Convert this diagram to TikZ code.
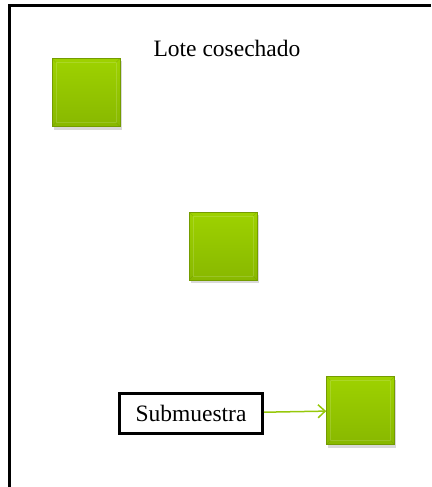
\documentclass[tikz,border=0pt]{standalone}
\usepackage{fontspec}
\setmainfont{Liberation Serif}
\usetikzlibrary{arrows.meta,shadows}

\definecolor{verdeA}{RGB}{158,210,0}
\definecolor{verdeB}{RGB}{136,184,0}
\definecolor{flecha}{RGB}{150,200,10}

\tikzset{
  muestra/.style={minimum width=68pt, minimum height=68pt, inner sep=0pt,
    top color=verdeA, bottom color=verdeB, draw=verdeB!85!black, line width=0.6pt,
    drop shadow={shadow xshift=1.5pt, shadow yshift=-3pt, opacity=0.3, fill=black!50},
    path picture={
      \draw [white, opacity=0.15, line width=0.8pt]
        ([shift={(4pt,4pt)}]path picture bounding box.south west)
        rectangle ([shift={(-4pt,-4pt)}]path picture bounding box.north east);
      \draw [verdeB!70!black, opacity=0.3, line width=0.6pt]
        (path picture bounding box.south west) -- ([shift={(4pt,4pt)}]path picture bounding box.south west)
        (path picture bounding box.south east) -- ([shift={(-4pt,4pt)}]path picture bounding box.south east)
        (path picture bounding box.north east) -- ([shift={(-4pt,-4pt)}]path picture bounding box.north east)
        (path picture bounding box.north west) -- ([shift={(4pt,-4pt)}]path picture bounding box.north west);
    }},
  etiqueta/.style={draw, line width=3pt, minimum width=143pt, minimum height=40pt,
    inner sep=0pt, font=\fontsize{23.5}{26}\selectfont},
  titulo/.style={font=\fontsize{23.5}{26}\selectfont}
}

\begin{document}
\begin{tikzpicture}[x=1pt, y=-1pt]
 \useasboundingbox (0,0) rectangle (431,487);

 % marco del lote
 \draw [line width=3pt] (9.5,487) -- (9.5,5.5) -- (431,5.5);

 \node [titulo] (lote) at (227,48) {Lote cosechado};

 \node [muestra] (sq1) at (86,92.5) {};
 \node [muestra] (sq2) at (223,246) {};
 \node [muestra] (sq3) at (360.5,410.5) {};

 \node [etiqueta] (sub) at (191,413.5) {Submuestra};

 \draw [flecha, line width=1.5pt, -{Straight Barb[length=7pt, width=13pt]}] (sub) -- (sq3);

\end{tikzpicture}
\end{document}
